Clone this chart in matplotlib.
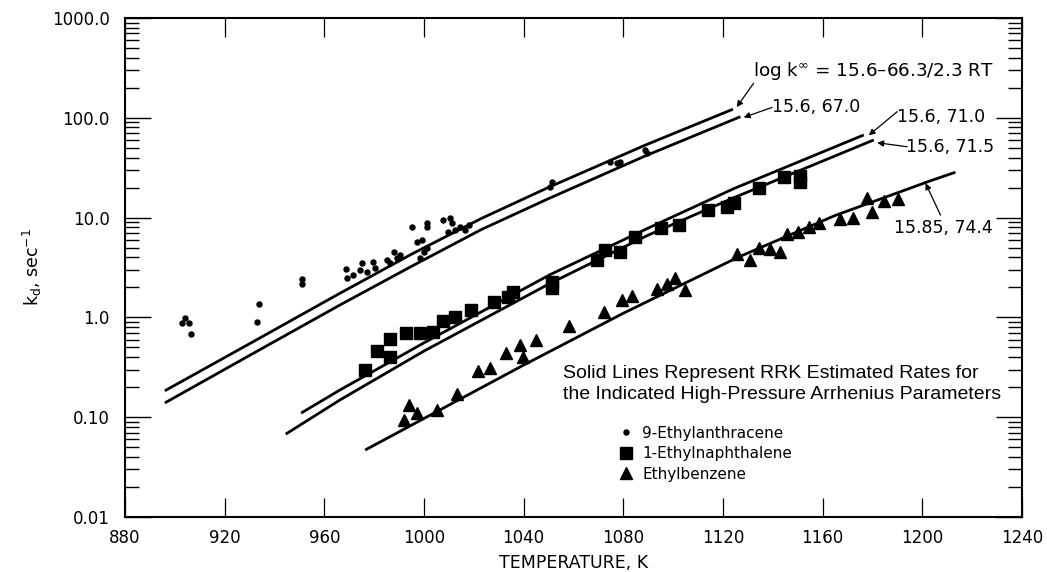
"""
Decomposition rate constants vs temperature
(RRK estimated rates with experimental points)
"""

import matplotlib
matplotlib.use("Agg")
import matplotlib.pyplot as plt
from matplotlib.ticker import LogLocator, NullFormatter

# RRK curves: (temperature K, k_d sec^-1)
curve_663_temp = [896.0, 930.0, 966.0, 995.0, 1023.0, 1050.0, 1089.0, 1124.0]
curve_663_rate = [0.184, 0.545, 1.73, 4.3, 9.8, 20.1, 53.5, 122.0]

curve_670_temp = [896.0, 930.0, 966.0, 995.0, 1023.0, 1050.0, 1089.0, 1127.0]
curve_670_rate = [0.139, 0.416, 1.32, 3.25, 7.59, 15.5, 41.7, 102.6]

curve_710_temp = [950.7, 966.3, 1000.0, 1050.7, 1090.0, 1124.3, 1176.5]
curve_710_rate = [0.110, 0.1875, 0.556, 2.69, 7.85, 19.5, 67.3]

curve_715_temp = [944.5, 966.3, 1000.0, 1050.7, 1090.0, 1124.3, 1180.5]
curve_715_rate = [0.0676, 0.149, 0.460, 2.20, 6.68, 15.8, 60.0]

curve_744_temp = [976.4, 1039.8, 1080.0, 1125.8, 1165.0, 1203.3, 1213.3]
curve_744_rate = [0.0469, 0.331, 1.10, 3.98, 10.5, 23.4, 28.5]

# 9-Ethylanthracene
anth_temp = [904.0, 903.0, 905.5, 906.4, 932.9, 933.8, 951.2, 951.2, 968.6, 969.0,
             971.7, 974.4, 975.1, 977.1, 979.7, 980.4, 985.1, 987.8, 989.1, 986.4,
             990.4, 995.1, 1001.2, 1001.2, 997.1, 999.2, 998.5, 999.8, 1001.2, 1007.8,
             1010.5, 1011.2, 1012.5, 1009.8, 1014.5, 1017.9, 1016.5, 1050.7, 1051.4, 1074.8,
             1077.5, 1078.8, 1088.8, 1089.5]
anth_rate = [0.98, 0.88, 0.88, 0.68, 0.90, 1.36, 2.43, 2.15, 3.03, 2.47,
             2.66, 2.99, 3.48, 2.87, 3.61, 3.10, 3.76, 4.55, 3.91, 3.48,
             4.22, 8.1, 8.8, 8.1, 5.7, 5.97, 3.9, 4.55, 4.92, 9.5,
             9.8, 8.8, 7.5, 7.2, 8.1, 8.4, 7.5, 20.4, 22.9, 36.3,
             35.0, 36.3, 47.5, 44.1]

# 1-Ethylnaphthalene
naph_temp = [976.4, 981.3, 986.4, 986.4, 992.9, 998.2, 1003.8, 1007.8, 1012.5, 1019.0,
             1027.9, 1033.9, 1035.9, 1051.4, 1051.4, 1069.4, 1072.8, 1078.8, 1084.8, 1095.3,
             1102.5, 1113.9, 1121.6, 1124.3, 1134.3, 1144.4, 1151.1, 1151.1]
naph_rate = [0.297, 0.464, 0.604, 0.404, 0.703, 0.703, 0.72, 0.927, 1.02, 1.19,
             1.44, 1.61, 1.81, 2.28, 1.96, 3.76, 4.73, 4.47, 6.44, 7.81,
             8.43, 11.9, 12.9, 13.9, 19.7, 25.5, 26.1, 22.9]

# Ethylbenzene
benz_temp = [991.8, 993.8, 997.1, 1005.2, 1013.2, 1021.6, 1026.6, 1032.9, 1038.6, 1039.7,
             1045.1, 1058.0, 1072.1, 1079.5, 1083.5, 1093.5, 1097.5, 1100.9, 1104.9, 1125.7,
             1131.0, 1134.3, 1139.0, 1142.8, 1145.7, 1150.1, 1154.4, 1158.7, 1167.1, 1172.2,
             1177.9, 1179.9, 1184.8, 1190.2]
benz_rate = [0.094, 0.132, 0.109, 0.118, 0.171, 0.290, 0.313, 0.437, 0.528, 0.398,
             0.594, 0.82, 1.14, 1.49, 1.64, 1.91, 2.16, 2.47, 1.88, 4.34,
             3.76, 4.92, 4.84, 4.55, 6.86, 7.22, 8.1, 8.77, 9.68, 10.0,
             15.6, 11.5, 14.8, 15.2]

x_ticks = [880, 920, 960, 1000, 1040, 1080, 1120, 1160, 1200, 1240]
y_ticks = [0.01, 0.1, 1.0, 10.0, 100.0, 1000.0]
y_tick_labels = ["0.01", "0.10", "1.0", "10.0", "100.0", "1000.0"]


def main() -> None:
    plt.rcParams['font.family'] = ['DejaVu Sans']

    fig = plt.figure(figsize=(10.47, 5.72), dpi=100)
    ax = fig.add_axes([0.1194, 0.0962, 0.8567, 0.8723])

    # RRK curves
    for t, k in [(curve_663_temp, curve_663_rate), (curve_670_temp, curve_670_rate),
                 (curve_710_temp, curve_710_rate), (curve_715_temp, curve_715_rate),
                 (curve_744_temp, curve_744_rate)]:
        ax.plot(t, k, color='black', lw=2.0, solid_capstyle='butt',
                solid_joinstyle='round')

    # experimental points
    ax.plot(anth_temp, anth_rate, linestyle='none', marker='o', markersize=3.6,
            color='black', label='9-Ethylanthracene')
    ax.plot(naph_temp, naph_rate, linestyle='none', marker='s', markersize=8,
            color='black', label='1-Ethylnaphthalene')
    ax.plot(benz_temp, benz_rate, linestyle='none', marker='^', markersize=9,
            color='black', label='Ethylbenzene')

    ax.set_yscale('log')
    ax.set_xlim(880, 1240)
    ax.set_ylim(0.01, 1000)
    ax.set_xticks(x_ticks)
    ax.set_yticks(y_ticks)
    ax.set_yticklabels(y_tick_labels)
    ax.yaxis.set_minor_locator(LogLocator(base=10, subs=range(2, 10)))
    ax.yaxis.set_minor_formatter(NullFormatter())

    ax.tick_params(axis='x', which='major', direction='in', length=14, width=0.9,
                   top=True, pad=9, labelsize=12)
    ax.tick_params(axis='y', which='major', direction='in', length=19, width=1.0,
                   right=True, pad=11, labelsize=12)
    ax.tick_params(axis='y', which='minor', direction='in', length=10, width=1.0,
                   right=True)
    for s in ax.spines.values():
        s.set_linewidth(1.5)

    ax.set_xlabel('TEMPERATURE, K', fontsize=12.5, labelpad=5)
    ax.set_ylabel('k$_\\mathregular{d}$, sec$^{-1}$', fontsize=12.5, labelpad=6)

    # labels on the curves
    arrow = dict(arrowstyle='-|>', color='black', lw=0.9, mutation_scale=9,
                 shrinkA=0, shrinkB=0)
    ax.text(1132.2, 294, 'log k$^{\\infty}$ = 15.6\u201366.3/2.3 RT',
            fontsize=13.2, ha='left', va='center')
    ax.annotate('', xy=(1125.5, 128), xytext=(1132.3, 222), arrowprops=arrow)

    ax.text(1139.7, 129, '15.6, 67.0', fontsize=12.5, ha='left', va='center')
    ax.annotate('', xy=(1128.3, 101), xytext=(1139.7, 127), arrowprops=arrow)

    ax.text(1189.9, 102.6, '15.6, 71.0', fontsize=12.5, ha='left', va='center')
    ax.annotate('', xy=(1178.5, 66.8), xytext=(1189.9, 115), arrowprops=arrow)

    ax.text(1193.6, 51.3, '15.6, 71.5', fontsize=12.5, ha='left', va='center')
    ax.annotate('', xy=(1181.9, 56.3), xytext=(1193.9, 51.3), arrowprops=arrow)

    ax.text(1188.8, 7.82, '15.85, 74.4', fontsize=12.5, ha='left', va='center')
    ax.annotate('', xy=(1201.3, 22.1), xytext=(1207.3, 10.6), arrowprops=arrow)

    ax.text(1055.9, 0.215,
            'Solid Lines Represent RRK Estimated Rates for\n'
            'the Indicated High-Pressure Arrhenius Parameters',
            fontsize=14, family=['Liberation Sans', 'DejaVu Sans'],
            ha='left', va='center', linespacing=1.25)

    ax.legend(loc='upper left', bbox_to_anchor=(0.550, 0.183), frameon=False,
              fontsize=11, handlelength=1.0, handletextpad=0.55, labelspacing=0.36,
              borderpad=0, borderaxespad=0, numpoints=1)

    fig.savefig('out.png', dpi=100)


if __name__ == "__main__":
    main()
